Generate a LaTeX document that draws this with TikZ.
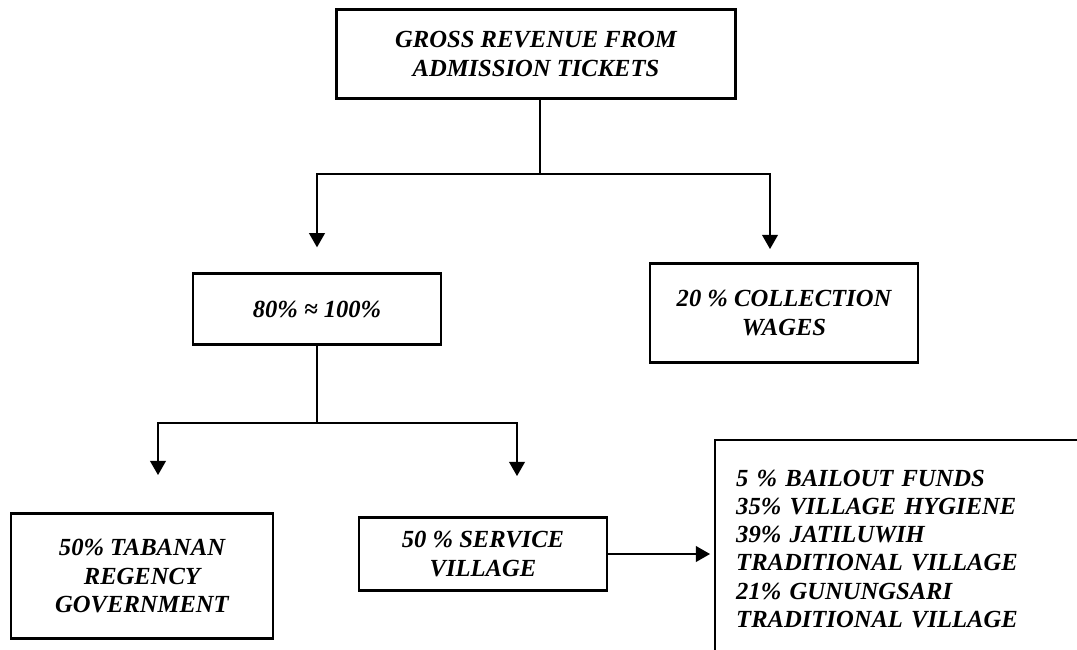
\documentclass[tikz,border=0pt]{standalone}
\usepackage{fontspec}
\setmainfont{Liberation Serif}
\usetikzlibrary{arrows.meta}
\usetikzlibrary{positioning}
\tikzstyle{block} = [draw, line width=1.4pt, fill=white, rectangle, align=center,
inner sep=2pt, font=\fontsize{14}{16}\selectfont\bfseries\itshape]
\tikzstyle{point} = [coordinate]
\tikzstyle{link} = [line width=0.6pt]

\begin{document}
\begin{tikzpicture}[x=0.02cm, y=-0.02cm, >={Triangle[width=9pt,length=8pt]}]
		\useasboundingbox (0,0) rectangle (1077,649);
		\clip (0,0) rectangle (1077,649);
		
		\node [block, minimum width=7.98cm, minimum height=1.78cm] (gross) at (536,54) {GROSS REVENUE FROM\\ADMISSION TICKETS};
		\node [point] (split1) at (540,174) {};
		
		\node [block, minimum width=4.96cm, minimum height=1.42cm] (share) at (317,309) {80\% ≈ 100\%};
		\node [point] (p1) [above=0.5cm of share] {};
		\node [block, minimum width=5.36cm, minimum height=1.98cm] (wages) at (784,313) {20 \% COLLECTION\\WAGES};
		\node [point] (p2) at (770,249) {};
		
		\node [point] (split2) at (317,423) {};
		\node [block, minimum width=5.24cm, minimum height=2.5cm] (govt) at (142,576) {50\% TABANAN\\REGENCY\\GOVERNMENT};
		\node [point] (p3) at (158,475) {};
		\node [block, minimum width=4.96cm, minimum height=1.46cm] (service) at (483,554) {50 \% SERVICE\\VILLAGE};
		\node [point] (p4) at (517,476) {};
		
		% box runs past the right and bottom edge
		\node [block, anchor=north west, align=left, text width=7.5cm, inner xsep=0.42cm, inner ysep=0.6cm] (villages) at (714,439) {5 \% BAILOUT FUNDS\\35\% VILLAGE HYGIENE\\39\% JATILUWIH\\TRADITIONAL VILLAGE\\21\% GUNUNGSARI\\TRADITIONAL VILLAGE};
		
		\draw [link] (gross.south -| split1) -- (split1);
		\draw [link, ->] (split1) -| (p1);
		\draw [link, ->] (split1) -| (p2);
		
		\draw [link] (share.south) -- (split2);
		\draw [link, ->] (split2) -| (p3);
		\draw [link, ->] (split2) -| (p4);
		
		\draw [link, ->, shorten >=0.08cm] (service.east) -- (service.east -| villages.west);
	\end{tikzpicture}
\end{document}
